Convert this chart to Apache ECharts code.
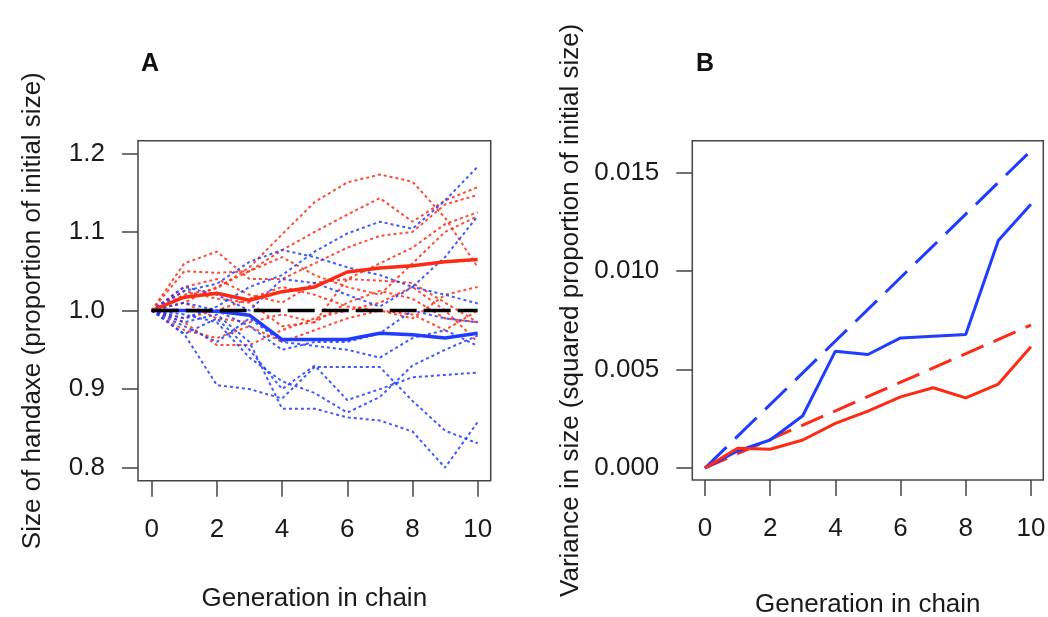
<!DOCTYPE html>
<html>
<head>
<meta charset="utf-8">
<script src="https://cdn.jsdelivr.net/npm/echarts@6/dist/echarts.min.js"></script>
<style>
html,body{margin:0;padding:0;background:#fff;}
#chart{width:1048px;height:617px;}
</style>
</head>
<body>
<div id="chart"></div>
<script>
// ---------- data ----------
const generations = [0, 1, 2, 3, 4, 5, 6, 7, 8, 9, 10];

// Panel A: individual chains (proportion of initial size)
const red1  = [1.000, 1.020, 1.028, 1.055, 1.097, 1.138, 1.163, 1.173, 1.164, 1.118, 1.055];
const red2  = [1.000, 1.010, 1.030, 1.050, 1.077, 1.100, 1.122, 1.143, 1.113, 1.140, 1.157];
const red3  = [1.000, 1.060, 1.075, 1.040, 1.040, 1.060, 1.080, 1.095, 1.100, 1.135, 1.147];
const red4  = [1.000, 1.050, 1.048, 1.050, 1.068, 1.045, 1.030, 1.020, 1.060, 1.100, 1.120];
const red5  = [1.000, 1.030, 1.040, 1.020, 1.010, 1.035, 1.040, 1.038, 1.035, 1.010, 0.985];
const red6  = [1.000, 0.985, 0.956, 0.956, 0.975, 0.990, 1.000, 1.010, 1.030, 1.000, 0.960];
const red7  = [1.000, 1.010, 0.990, 0.985, 0.995, 0.985, 1.010, 1.025, 1.015, 0.990, 0.985];
const red8  = [1.000, 0.990, 1.000, 1.015, 1.030, 1.020, 1.005, 1.000, 0.990, 1.020, 1.030];
const red9  = [1.000, 1.025, 1.015, 1.010, 0.980, 0.985, 1.040, 1.060, 1.080, 1.110, 1.125];
const red10 = [1.000, 0.975, 0.965, 0.980, 0.960, 0.975, 0.990, 1.000, 0.995, 0.975, 1.000];

const blue1 = [1.000, 0.990, 1.005, 1.030, 1.045, 1.075, 1.098, 1.113, 1.104, 1.140, 1.183];
const blue2 = [1.000, 1.025, 1.034, 1.062, 1.077, 1.068, 1.055, 1.045, 1.030, 1.068, 1.120];
const blue3 = [1.000, 1.030, 1.020, 1.000, 1.040, 1.035, 1.020, 1.005, 1.030, 1.020, 1.009];
const blue4 = [1.000, 0.970, 0.905, 0.900, 0.888, 0.928, 0.928, 0.928, 0.885, 0.847, 0.831];
const blue5 = [1.000, 0.985, 0.995, 0.960, 0.875, 0.875, 0.864, 0.860, 0.846, 0.800, 0.858];
const blue6 = [1.000, 0.970, 0.990, 0.950, 0.900, 0.930, 0.886, 0.900, 0.915, 0.918, 0.921];
const blue7 = [1.000, 0.995, 0.985, 0.940, 0.910, 0.895, 0.870, 0.890, 0.930, 0.950, 0.968];
const blue8 = [1.000, 1.010, 1.000, 0.980, 0.950, 0.960, 0.960, 0.971, 1.000, 0.990, 0.985];
const blue9 = [1.000, 0.980, 0.960, 0.990, 0.960, 0.955, 0.950, 0.940, 0.965, 0.975, 0.955];

// Panel A: means and reference
const redMean  = [1.000, 1.017, 1.022, 1.013, 1.024, 1.030, 1.049, 1.054, 1.057, 1.062, 1.065];
const blueMean = [1.000, 1.000, 0.999, 0.994, 0.963, 0.963, 0.963, 0.971, 0.969, 0.965, 0.971];
const refGenerations = [0, 10];
const refSize = [1.0, 1.0];

// Panel B: variance
const blueVariance = [0, 0.00086, 0.00142, 0.00265, 0.00593, 0.00576, 0.00660, 0.00669, 0.00677, 0.01155, 0.01338];
const redVariance  = [0, 0.00100, 0.00095, 0.00142, 0.00226, 0.00289, 0.00361, 0.00407, 0.00356, 0.00426, 0.00615];
const expectedGenerations = [0, 10];
const blueExpected = [0, 0.0161];
const redExpected  = [0, 0.00725];

// tick labels
const xTicks  = [0, 2, 4, 6, 8, 10];
const yTicksA = [0.8, 0.9, 1.0, 1.1, 1.2];
const yTicksB = [0, 0.005, 0.010, 0.015];

// ---------- chart ----------
const RED = '#ff2a14';
const BLUE = '#1f3cff';
const FONT = "'Liberation Sans', Arial, sans-serif";
const TXT = '#1a1a1a';

const pairs = (xs, ys) => xs.map((x, i) => [x, ys[i]]);

const redChains = [red1, red2, red3, red4, red5, red6, red7, red8, red9, red10];
const blueChains = [blue1, blue2, blue3, blue4, blue5, blue6, blue7, blue8, blue9];

const series = [];
redChains.forEach(c => series.push({
  type: 'line', xAxisIndex: 0, yAxisIndex: 0, data: pairs(generations, c),
  showSymbol: false, silent: true,
  lineStyle: { color: RED, width: 2, type: [3, 3], opacity: 0.85 }
}));
blueChains.forEach(c => series.push({
  type: 'line', xAxisIndex: 0, yAxisIndex: 0, data: pairs(generations, c),
  showSymbol: false, silent: true,
  lineStyle: { color: BLUE, width: 2, type: [3, 3], opacity: 0.85 }
}));
series.push({
  type: 'line', xAxisIndex: 0, yAxisIndex: 0, data: pairs(generations, redMean),
  showSymbol: false, lineStyle: { color: RED, width: 3.5 }
});
series.push({
  type: 'line', xAxisIndex: 0, yAxisIndex: 0, data: pairs(generations, blueMean),
  showSymbol: false, lineStyle: { color: BLUE, width: 3.5 }
});
series.push({
  type: 'line', xAxisIndex: 0, yAxisIndex: 0, data: pairs(refGenerations, refSize),
  showSymbol: false, lineStyle: { color: '#000', width: 3.5, type: [27, 7] }
});
// Panel B
series.push({
  type: 'line', xAxisIndex: 1, yAxisIndex: 1, data: pairs(expectedGenerations, blueExpected),
  showSymbol: false, lineStyle: { color: BLUE, width: 3, type: [30, 12] }
});
series.push({
  type: 'line', xAxisIndex: 1, yAxisIndex: 1, data: pairs(expectedGenerations, redExpected),
  showSymbol: false, lineStyle: { color: RED, width: 3, type: [24, 11] }
});
series.push({
  type: 'line', xAxisIndex: 1, yAxisIndex: 1, data: pairs(generations, blueVariance),
  showSymbol: false, lineStyle: { color: BLUE, width: 3 }
});
series.push({
  type: 'line', xAxisIndex: 1, yAxisIndex: 1, data: pairs(generations, redVariance),
  showSymbol: false, lineStyle: { color: RED, width: 3 }
});

const tick = (vals) => ({ show: true, inside: false, length: 16, customValues: vals,
  lineStyle: { color: '#444', width: 1.5 } });

const xAxisFor = (gi, min, max, nameGap) => ({
  gridIndex: gi, type: 'value', min: min, max: max,
  axisLine: { show: false, onZero: false }, splitLine: { show: false },
  axisTick: tick(xTicks),
  axisLabel: { color: TXT, fontSize: 26, fontFamily: FONT, margin: 36, customValues: xTicks,
    formatter: v => String(Math.round(v)) },
  name: 'Generation in chain', nameLocation: 'middle', nameGap: nameGap,
  nameTextStyle: { color: TXT, fontSize: 26, fontFamily: FONT }
});

const option = {
  backgroundColor: '#fff',
  animation: false,
  title: [
    { text: 'A', left: 136, top: 47, textStyle: { fontSize: 25, fontWeight: 'bold', color: '#111', fontFamily: FONT } },
    { text: 'B', left: 691, top: 47, textStyle: { fontSize: 25, fontWeight: 'bold', color: '#111', fontFamily: FONT } }
  ],
  grid: [
    { left: 138, top: 140.7, width: 352.7, height: 340, show: true, borderColor: '#444', borderWidth: 1.5,
      backgroundColor: 'transparent', containLabel: false, outerBoundsMode: 'none' },
    { left: 692.3, top: 140.7, width: 351, height: 339.3, show: true, borderColor: '#444', borderWidth: 1.5,
      backgroundColor: 'transparent', containLabel: false, outerBoundsMode: 'none' }
  ],
  xAxis: [
    xAxisFor(0, -0.42, 10.4, 105),
    xAxisFor(1, -0.39, 10.38, 112)
  ],
  yAxis: [
    {
      gridIndex: 0, type: 'value', min: 0.7834, max: 1.2161,
      axisLine: { show: false, onZero: false }, splitLine: { show: false },
      axisTick: tick(yTicksA),
      axisLabel: { color: TXT, fontSize: 26, fontFamily: FONT, margin: 33, customValues: yTicksA,
        formatter: v => Number(v).toFixed(1) },
      name: 'Size of handaxe (proportion of initial size)', nameLocation: 'middle', nameGap: 92,
      nameTextStyle: { color: TXT, fontSize: 26, fontFamily: FONT }
    },
    {
      gridIndex: 1, type: 'value', min: -0.00061, max: 0.01661,
      axisLine: { show: false, onZero: false }, splitLine: { show: false },
      axisTick: tick(yTicksB),
      axisLabel: { color: TXT, fontSize: 26, fontFamily: FONT, margin: 33, customValues: yTicksB,
        formatter: v => Number(v).toFixed(3) },
      name: 'Variance in size (squared proportion of initial size)', nameLocation: 'middle', nameGap: 108,
      nameTextStyle: { color: TXT, fontSize: 26, fontFamily: FONT }
    }
  ],
  series: series
};

const chart = echarts.init(document.getElementById('chart'), null, { renderer: 'canvas' });
chart.setOption(option);
</script>
</body>
</html>
